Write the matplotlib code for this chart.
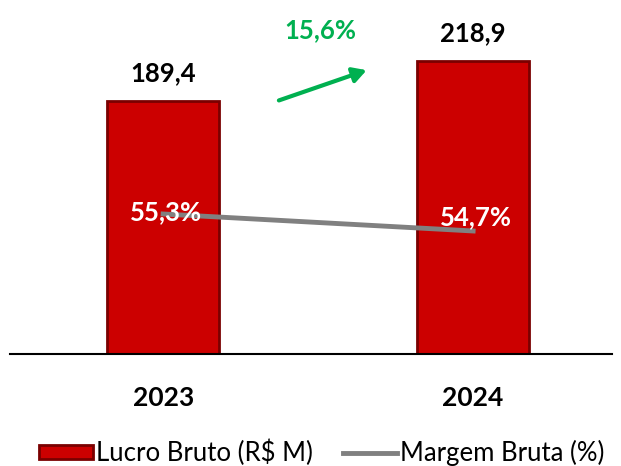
import matplotlib.pyplot as plt

# Data
years = ["2023", "2024"]
lucro_bruto = [189.4, 218.9]
margem_bruta = [55.3, 54.7]
lucro_labels = ["189,4", "218,9"]
margem_labels = ["55,3%", "54,7%"]
growth_label = "15,6%"

RED = "#CC0000"
DARK_RED = "#7A0000"
GRAY = "#808080"
GREEN = "#00B050"

plt.rcParams["font.family"] = ["Lato", "DejaVu Sans"]

fig = plt.figure(figsize=(6.21, 4.66), dpi=100)
ax = fig.add_axes([10 / 621, 112 / 466, 602 / 621, 354 / 466])
x = list(range(len(years)))

ax.bar(x, lucro_bruto, width=0.36, color=RED, edgecolor=DARK_RED, linewidth=2,
       label="Lucro Bruto (R$ M)", zorder=2)
ax.set_xlim(-0.494, 1.448)
ax.set_ylim(0, 264.8)

for xi, v, lab in zip(x, lucro_bruto, lucro_labels):
    ax.text(xi, v + 21, lab, ha="center", va="center", fontsize=18.5,
            fontweight="bold", color="black")

for spine in ["top", "right", "left"]:
    ax.spines[spine].set_visible(False)
ax.spines["bottom"].set_linewidth(1.5)
ax.set_yticks([])
ax.set_xticks([])
for xi, yr in zip(x, years):
    ax.text(xi, -0.124, yr, transform=ax.get_xaxis_transform(), ha="center",
            va="center", fontsize=19, fontweight="bold")

# secondary axis for margin
ax2 = ax.twinx()
ax2.plot(x, margem_bruta, color=GRAY, linewidth=3.5, label="Margem Bruta (%)", zorder=3)
ax2.set_ylim(50.36, 62.85)
ax2.axis("off")
for xi, v, lab, dy in zip(x, margem_bruta, margem_labels, [0.07, 0.48]):
    ax2.text(xi + 0.01, v + dy, lab, ha="center", va="center", fontsize=18.5,
             fontweight="bold", color="white", zorder=4)

# growth arrow
ax.annotate("", xy=(0.665, 213), xytext=(0.365, 189),
            arrowprops=dict(arrowstyle="-|>,head_length=0.8,head_width=0.45",
                            color=GREEN, lw=3))
ax.text(0.506, 242, growth_label, ha="center", va="center", fontsize=18.5,
        fontweight="bold", color=GREEN)

h1, l1 = ax.get_legend_handles_labels()
h2, l2 = ax2.get_legend_handles_labels()
fig.legend(h1 + h2, l1 + l2, loc="center", bbox_to_anchor=(0.5185, 0.028), ncol=2,
           frameon=False, fontsize=18.5, handlelength=2.1, handleheight=0.5,
           handletextpad=0.12, columnspacing=1.17)

fig.savefig("out.png", dpi=100)
